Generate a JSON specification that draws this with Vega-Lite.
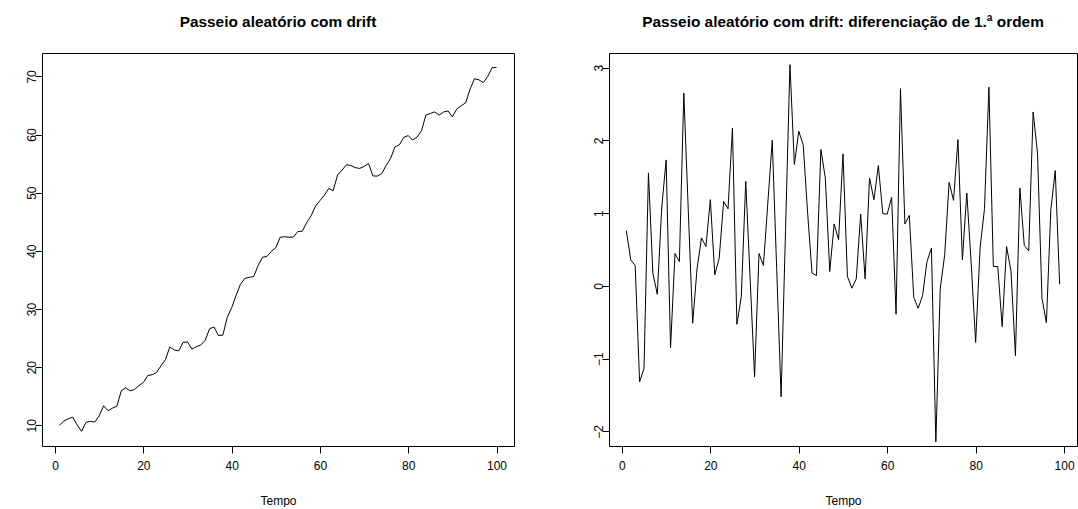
{
  "$schema": "https://vega.github.io/schema/vega-lite/v6.json",
  "background": "white",
  "padding": {"left": 24, "top": 14, "right": 0, "bottom": 0},
  "autosize": {"type": "pad"},
  "config": {
    "font": "Liberation Sans",
    "view": {"stroke": "black", "strokeWidth": 1},
    "axis": {"grid": false, "domain": false, "tickColor": "black", "tickSize": 7, "labelFont": "Liberation Sans", "labelFontSize": 12, "labelColor": "black", "titleFont": "Liberation Sans", "titleFontSize": 12, "titleFontWeight": "normal", "titleColor": "black"},
    "title": {"font": "Liberation Sans", "fontSize": 15.4, "fontWeight": "bold", "color": "black"},
    "concat": {"spacing": 76}
  },
  "datasets": {
    "walk": [
      {"t":1,"valor":10.00},{"t":2,"valor":10.76},{"t":3,"valor":11.12},{"t":4,"valor":11.40},{"t":5,"valor":10.08},
      {"t":6,"valor":8.94},{"t":7,"valor":10.50},{"t":8,"valor":10.67},{"t":9,"valor":10.56},{"t":10,"valor":11.63},
      {"t":11,"valor":13.36},{"t":12,"valor":12.51},{"t":13,"valor":12.95},{"t":14,"valor":13.29},{"t":15,"valor":15.94},
      {"t":16,"valor":16.44},{"t":17,"valor":15.92},{"t":18,"valor":16.17},{"t":19,"valor":16.83},{"t":20,"valor":17.37},
      {"t":21,"valor":18.55},{"t":22,"valor":18.70},{"t":23,"valor":19.08},{"t":24,"valor":20.24},{"t":25,"valor":21.30},
      {"t":26,"valor":23.47},{"t":27,"valor":22.95},{"t":28,"valor":22.80},{"t":29,"valor":24.24},{"t":30,"valor":24.34},
      {"t":31,"valor":23.09},{"t":32,"valor":23.53},{"t":33,"valor":23.81},{"t":34,"valor":24.60},{"t":35,"valor":26.60},
      {"t":36,"valor":26.90},{"t":37,"valor":25.45},{"t":38,"valor":25.50},{"t":39,"valor":28.54},{"t":40,"valor":30.21},
      {"t":41,"valor":32.33},{"t":42,"valor":34.27},{"t":43,"valor":35.27},{"t":44,"valor":35.45},{"t":45,"valor":35.59},
      {"t":46,"valor":37.46},{"t":47,"valor":38.90},{"t":48,"valor":39.05},{"t":49,"valor":39.90},{"t":50,"valor":40.55},
      {"t":51,"valor":42.34},{"t":52,"valor":42.42},{"t":53,"valor":42.34},{"t":54,"valor":42.38},{"t":55,"valor":43.32},
      {"t":56,"valor":43.37},{"t":57,"valor":44.85},{"t":58,"valor":46.03},{"t":59,"valor":47.69},{"t":60,"valor":48.63},
      {"t":61,"valor":49.57},{"t":62,"valor":50.73},{"t":63,"valor":50.34},{"t":64,"valor":53.05},{"t":65,"valor":53.85},
      {"t":66,"valor":54.82},{"t":67,"valor":54.66},{"t":68,"valor":54.31},{"t":69,"valor":54.17},{"t":70,"valor":54.51},
      {"t":71,"valor":55.03},{"t":72,"valor":52.88},{"t":73,"valor":52.85},{"t":74,"valor":53.28},{"t":75,"valor":54.70},
      {"t":76,"valor":55.88},{"t":77,"valor":57.89},{"t":78,"valor":58.24},{"t":79,"valor":59.52},{"t":80,"valor":59.82},
      {"t":81,"valor":59.05},{"t":82,"valor":59.56},{"t":83,"valor":60.62},{"t":84,"valor":63.35},{"t":85,"valor":63.62},
      {"t":86,"valor":63.89},{"t":87,"valor":63.33},{"t":88,"valor":63.87},{"t":89,"valor":64.06},{"t":90,"valor":63.05},
      {"t":91,"valor":64.40},{"t":92,"valor":64.95},{"t":93,"valor":65.44},{"t":94,"valor":67.78},{"t":95,"valor":69.59},
      {"t":96,"valor":69.42},{"t":97,"valor":68.92},{"t":98,"valor":69.96},{"t":99,"valor":71.50},{"t":100,"valor":71.52}
    ],
    "diff": [
      {"t":1,"valor":0.758},{"t":2,"valor":0.358},{"t":3,"valor":0.28},{"t":4,"valor":-1.318},{"t":5,"valor":-1.134},
      {"t":6,"valor":1.552},{"t":7,"valor":0.175},{"t":8,"valor":-0.115},{"t":9,"valor":1.07},{"t":10,"valor":1.731},
      {"t":11,"valor":-0.85},{"t":12,"valor":0.445},{"t":13,"valor":0.335},{"t":14,"valor":2.649},{"t":15,"valor":1.05},
      {"t":16,"valor":-0.514},{"t":17,"valor":0.244},{"t":18,"valor":0.66},{"t":19,"valor":0.54},{"t":20,"valor":1.185},
      {"t":21,"valor":0.152},{"t":22,"valor":0.38},{"t":23,"valor":1.16},{"t":24,"valor":1.06},{"t":25,"valor":2.17},
      {"t":26,"valor":-0.528},{"t":27,"valor":-0.147},{"t":28,"valor":1.437},{"t":29,"valor":0.1},{"t":30,"valor":-1.249},
      {"t":31,"valor":0.445},{"t":32,"valor":0.28},{"t":33,"valor":1.14},{"t":34,"valor":2.0},{"t":35,"valor":0.24},
      {"t":36,"valor":-1.524},{"t":37,"valor":0.76},{"t":38,"valor":3.04},{"t":39,"valor":1.667},{"t":40,"valor":2.125},
      {"t":41,"valor":1.94},{"t":42,"valor":1.0},{"t":43,"valor":0.175},{"t":44,"valor":0.142},{"t":45,"valor":1.873},
      {"t":46,"valor":1.483},{"t":47,"valor":0.197},{"t":48,"valor":0.85},{"t":49,"valor":0.634},{"t":50,"valor":1.814},
      {"t":51,"valor":0.128},{"t":52,"valor":-0.032},{"t":53,"valor":0.096},{"t":54,"valor":0.987},{"t":55,"valor":0.096},
      {"t":56,"valor":1.483},{"t":57,"valor":1.185},{"t":58,"valor":1.653},{"t":59,"valor":0.992},{"t":60,"valor":0.987},
      {"t":61,"valor":1.216},{"t":62,"valor":-0.39},{"t":63,"valor":2.709},{"t":64,"valor":0.85},{"t":65,"valor":0.969},
      {"t":66,"valor":-0.156},{"t":67,"valor":-0.307},{"t":68,"valor":-0.133},{"t":69,"valor":0.335},{"t":70,"valor":0.519},
      {"t":71,"valor":-2.144},{"t":72,"valor":-0.032},{"t":73,"valor":0.427},{"t":74,"valor":1.423},{"t":75,"valor":1.175},
      {"t":76,"valor":2.01},{"t":77,"valor":0.358},{"t":78,"valor":1.277},{"t":79,"valor":0.3},{"t":80,"valor":-0.776},
      {"t":81,"valor":0.519},{"t":82,"valor":1.06},{"t":83,"valor":2.73},{"t":84,"valor":0.266},{"t":85,"valor":0.266},
      {"t":86,"valor":-0.56},{"t":87,"valor":0.541},{"t":88,"valor":0.197},{"t":89,"valor":-0.96},{"t":90,"valor":1.345},
      {"t":91,"valor":0.555},{"t":92,"valor":0.482},{"t":93,"valor":2.39},{"t":94,"valor":1.814},{"t":95,"valor":-0.17},
      {"t":96,"valor":-0.505},{"t":97,"valor":1.047},{"t":98,"valor":1.584},{"t":99,"valor":0.023}
    ]
  },
  "hconcat": [
    {
      "width": 472, "height": 393,
      "title": {"text": "Passeio aleatório com drift", "offset": 23},
      "data": {"name": "walk"},
      "mark": {"type": "line", "color": "black", "strokeWidth": 1},
      "encoding": {
        "x": {"field": "t", "type": "quantitative", "scale": {"domain": [-2.96, 103.96], "nice": false, "zero": false},
              "axis": {"values": [0, 20, 40, 60, 80, 100], "title": "Tempo", "labelPadding": 7, "titlePadding": 24, "labelFlush": false}},
        "y": {"field": "valor", "type": "quantitative", "scale": {"domain": [6.44, 74.02], "nice": false, "zero": false},
              "axis": {"values": [10, 20, 30, 40, 50, 60, 70], "title": null, "labelAngle": -90, "labelAlign": "center", "labelBaseline": "alphabetic", "labelPadding": 0, "labelFlush": false}}
      }
    },
    {
      "width": 468, "height": 393,
      "title": {"text": "Passeio aleatório com drift: diferenciação de 1.ª ordem", "offset": 23},
      "data": {"name": "diff"},
      "mark": {"type": "line", "color": "black", "strokeWidth": 1},
      "encoding": {
        "x": {"field": "t", "type": "quantitative", "scale": {"domain": [-2.92, 102.92], "nice": false, "zero": false},
              "axis": {"values": [0, 20, 40, 60, 80, 100], "title": "Tempo", "labelPadding": 7, "titlePadding": 24, "labelFlush": false}},
        "y": {"field": "valor", "type": "quantitative", "scale": {"domain": [-2.2, 3.2], "nice": false, "zero": false},
              "axis": {"values": [-2, -1, 0, 1, 2, 3], "title": null, "labelAngle": -90, "labelAlign": "center", "labelBaseline": "alphabetic", "labelPadding": 0, "labelFlush": false}}
      }
    }
  ]
}
